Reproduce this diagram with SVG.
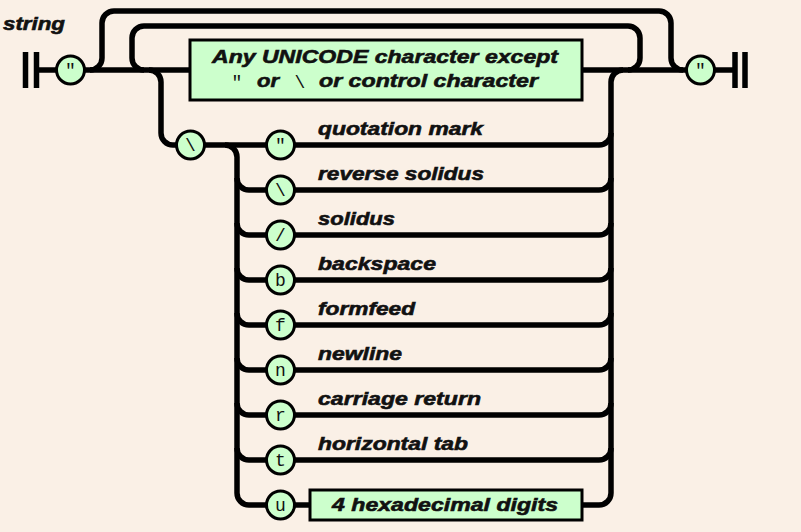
<svg xmlns="http://www.w3.org/2000/svg" width="801" height="532" viewBox="0 0 801 532">
<defs>
<style>
.ln{fill:none;stroke:#000;stroke-width:5.5;stroke-linejoin:round}
.term{fill:none;stroke:#000;stroke-width:5.5}
.tc{fill:#ccffcc;stroke:#000;stroke-width:3}
.box{fill:#ccffcc;stroke:#000;stroke-width:3}
.lbl{font-family:"Liberation Sans",Arial,sans-serif;font-weight:bold;font-style:italic;font-size:19px;fill:#111;stroke:#111;stroke-width:0.6}
.mono{font-family:"Liberation Mono","Courier New",monospace;font-size:18px;fill:#111;text-anchor:middle}
</style>
</defs>
<rect x="0" y="0" width="801" height="532" fill="#faf0e6"/>
<text class="lbl" x="3" y="30" font-size="17" textLength="62" lengthAdjust="spacingAndGlyphs">string</text>
<g id="connectors">
<path class="ln" d="M36 70 H56"/>
<path class="ln" d="M85 70 H190"/>
<path class="ln" d="M582 70 H686"/>
<path class="ln" d="M715 70 H735"/>
<path class="ln" d="M90 70 A12 12 0 0 0 102 58 V23 A12 12 0 0 1 114 11 H659 A12 12 0 0 1 671 23 V58 A12 12 0 0 0 683 70"/>
<path class="ln" d="M144 70 A12 12 0 0 1 132 58 V38 A12 12 0 0 1 144 26 H628 A12 12 0 0 1 640 38 V58 A12 12 0 0 1 628 70"/>
<path class="ln" d="M149 70 A12 12 0 0 1 161 82 V133 A12 12 0 0 0 173 145 H176"/>
<path class="ln" d="M204 145 H266"/>
<path class="ln" d="M225 145 A12 12 0 0 1 237 157 V493 A12 12 0 0 0 249 505 H266"/>
<path class="ln" d="M237 178 A12 12 0 0 0 249 190 H266"/>
<path class="ln" d="M237 223 A12 12 0 0 0 249 235 H266"/>
<path class="ln" d="M237 268 A12 12 0 0 0 249 280 H266"/>
<path class="ln" d="M237 313 A12 12 0 0 0 249 325 H266"/>
<path class="ln" d="M237 358 A12 12 0 0 0 249 370 H266"/>
<path class="ln" d="M237 403 A12 12 0 0 0 249 415 H266"/>
<path class="ln" d="M237 448 A12 12 0 0 0 249 460 H266"/>
<path class="ln" d="M611 493 V82 A12 12 0 0 1 623 70"/>
<path class="ln" d="M294 145 H599 A12 12 0 0 0 611 133"/>
<path class="ln" d="M294 190 H599 A12 12 0 0 0 611 178"/>
<path class="ln" d="M294 235 H599 A12 12 0 0 0 611 223"/>
<path class="ln" d="M294 280 H599 A12 12 0 0 0 611 268"/>
<path class="ln" d="M294 325 H599 A12 12 0 0 0 611 313"/>
<path class="ln" d="M294 370 H599 A12 12 0 0 0 611 358"/>
<path class="ln" d="M294 415 H599 A12 12 0 0 0 611 403"/>
<path class="ln" d="M294 460 H599 A12 12 0 0 0 611 448"/>
<path class="ln" d="M294 505 H310"/>
<path class="ln" d="M582 505 H599 A12 12 0 0 0 611 493"/>
</g>
<g id="start">
<path class="term" d="M25.5 52 V88 M36.5 52 V88"/>
</g>
<g id="end">
<path class="term" d="M735 52 V88 M745 52 V88"/>
</g>
<g id="open-quote">
<circle class="tc" cx="70.5" cy="70" r="14"/>
<text class="mono" x="70.5" y="76">"</text>
</g>
<g id="close-quote">
<circle class="tc" cx="700.5" cy="70" r="14"/>
<text class="mono" x="700.5" y="76">"</text>
</g>
<g id="any-char">
<rect class="box" x="190" y="40" width="392" height="60"/>
<text class="lbl" x="212" y="63" textLength="346" lengthAdjust="spacingAndGlyphs">Any UNICODE character except</text>
<text class="mono" x="237" y="88">"</text>
<text class="lbl" x="257" y="87" textLength="22" lengthAdjust="spacingAndGlyphs">or</text>
<text class="mono" x="300" y="88">\</text>
<text class="lbl" x="319" y="87" textLength="219" lengthAdjust="spacingAndGlyphs">or control character</text>
</g>
<g id="escape">
<circle class="tc" cx="190.5" cy="145" r="14"/>
<text class="mono" x="190.5" y="151">\</text>
</g>
<g id="esc-quote">
<circle class="tc" cx="280.5" cy="145" r="14"/>
<text class="mono" x="280.5" y="151">"</text>
<text class="lbl" x="318" y="135" textLength="165" lengthAdjust="spacingAndGlyphs">quotation mark</text>
</g>
<g id="esc-backslash">
<circle class="tc" cx="280.5" cy="190" r="14"/>
<text class="mono" x="280.5" y="196">\</text>
<text class="lbl" x="318" y="180" textLength="166" lengthAdjust="spacingAndGlyphs">reverse solidus</text>
</g>
<g id="esc-slash">
<circle class="tc" cx="280.5" cy="235" r="14"/>
<text class="mono" x="280.5" y="241">/</text>
<text class="lbl" x="318" y="225" textLength="77" lengthAdjust="spacingAndGlyphs">solidus</text>
</g>
<g id="esc-b">
<circle class="tc" cx="280.5" cy="280" r="14"/>
<text class="mono" x="280.5" y="286">b</text>
<text class="lbl" x="318" y="270" textLength="118" lengthAdjust="spacingAndGlyphs">backspace</text>
</g>
<g id="esc-f">
<circle class="tc" cx="280.5" cy="325" r="14"/>
<text class="mono" x="280.5" y="331">f</text>
<text class="lbl" x="318" y="315" textLength="97" lengthAdjust="spacingAndGlyphs">formfeed</text>
</g>
<g id="esc-n">
<circle class="tc" cx="280.5" cy="370" r="14"/>
<text class="mono" x="280.5" y="376">n</text>
<text class="lbl" x="318" y="360" textLength="84" lengthAdjust="spacingAndGlyphs">newline</text>
</g>
<g id="esc-r">
<circle class="tc" cx="280.5" cy="415" r="14"/>
<text class="mono" x="280.5" y="421">r</text>
<text class="lbl" x="318" y="405" textLength="163" lengthAdjust="spacingAndGlyphs">carriage return</text>
</g>
<g id="esc-t">
<circle class="tc" cx="280.5" cy="460" r="14"/>
<text class="mono" x="280.5" y="466">t</text>
<text class="lbl" x="318" y="450" textLength="150" lengthAdjust="spacingAndGlyphs">horizontal tab</text>
</g>
<g id="esc-u">
<circle class="tc" cx="280.5" cy="505" r="14"/>
<text class="mono" x="280.5" y="511">u</text>
</g>
<g id="hex-digits">
<rect class="box" x="310" y="490" width="272" height="30"/>
<text class="lbl" x="332" y="511" textLength="226" lengthAdjust="spacingAndGlyphs">4 hexadecimal digits</text>
</g>
</svg>
